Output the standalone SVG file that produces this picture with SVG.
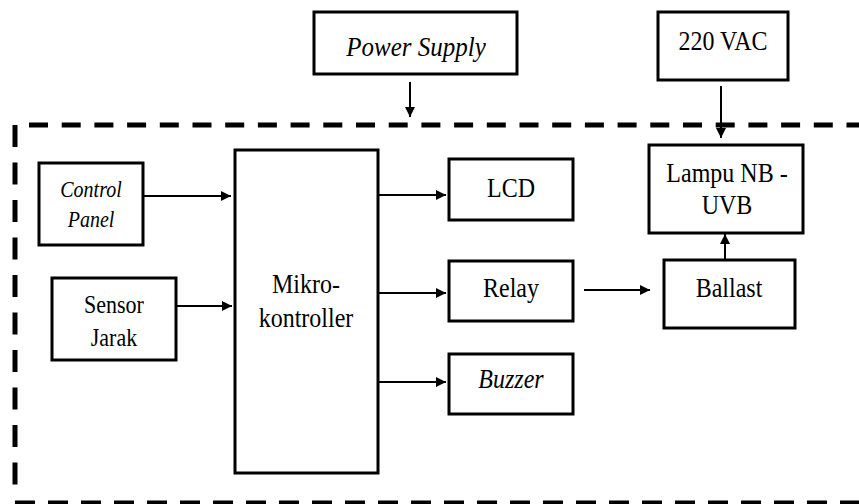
<svg xmlns="http://www.w3.org/2000/svg" width="859" height="504" viewBox="0 0 859 504">
<style>
.box{fill:#fff;stroke:#000;stroke-width:3}
.t{font-family:"Liberation Serif","Times New Roman",serif;font-size:24px;fill:#000;text-anchor:middle}
.i{font-style:italic}
.c{stroke:#000;stroke-width:2;fill:none}
.d{stroke:#000;stroke-width:5;fill:none}
</style>
<defs>
<marker id="ah" viewBox="0 0 10 10" refX="10" refY="5" markerWidth="10" markerHeight="10" markerUnits="userSpaceOnUse" orient="auto">
<path d="M0,0 L10,5 L0,10 Z" fill="#000"/>
</marker>
</defs>
<rect width="859" height="504" fill="#fff"/>
<g id="boundary">
<line class="d" x1="29" y1="125" x2="859" y2="125" stroke-dasharray="19 13.7"/>
<line class="d" x1="15" y1="125" x2="15" y2="490" stroke-dasharray="22 15.5"/>
<line class="d" x1="15" y1="503" x2="859" y2="503" stroke-dasharray="20 13"/>
</g>
<g id="connectors">
<line class="c" x1="410" y1="82" x2="410" y2="117" marker-end="url(#ah)"/>
<line class="c" x1="721" y1="86" x2="721" y2="138" marker-end="url(#ah)"/>
<line class="c" x1="143" y1="196" x2="231" y2="196" marker-end="url(#ah)"/>
<line class="c" x1="176" y1="306" x2="232" y2="306" marker-end="url(#ah)"/>
<line class="c" x1="378" y1="195" x2="446" y2="195" marker-end="url(#ah)"/>
<line class="c" x1="378" y1="293" x2="446" y2="293" marker-end="url(#ah)"/>
<line class="c" x1="378" y1="382" x2="446" y2="382" marker-end="url(#ah)"/>
<line class="c" x1="584" y1="290" x2="650" y2="290" marker-end="url(#ah)"/>
<line class="c" x1="725" y1="260" x2="725" y2="234" marker-end="url(#ah)"/>
</g>
<g id="power-supply">
<rect class="box" x="314" y="12" width="203" height="62"/>
<text class="t i" transform="translate(416,56) scale(1,1.08)" style="font-size:25px">Power Supply</text>
</g>
<g id="vac">
<rect class="box" x="658" y="12" width="130" height="68"/>
<text class="t" transform="translate(723,50) scale(1,1.12)">220 VAC</text>
</g>
<g id="control-panel">
<rect class="box" x="39" y="163" width="104" height="82"/>
<text class="t i" transform="translate(91,197) scale(1,1.2)" style="font-size:20px">Control</text>
<text class="t i" transform="translate(91,227) scale(1,1.2)" style="font-size:20px">Panel</text>
</g>
<g id="sensor-jarak">
<rect class="box" x="52" y="278" width="124" height="82"/>
<text class="t" transform="translate(114,313) scale(1,1.12)" style="font-size:22px">Sensor</text>
<text class="t" transform="translate(114,346) scale(1,1.12)" style="font-size:22px">Jarak</text>
</g>
<g id="mikrokontroller">
<rect class="box" x="235" y="150" width="143" height="323"/>
<text class="t" transform="translate(306,293) scale(1,1.12)">Mikro-</text>
<text class="t" transform="translate(306,327) scale(1,1.12)">kontroller</text>
</g>
<g id="lcd">
<rect class="box" x="449" y="159" width="124" height="61"/>
<text class="t" transform="translate(511,197) scale(1,1.12)">LCD</text>
</g>
<g id="relay">
<rect class="box" x="449" y="261" width="124" height="60"/>
<text class="t" transform="translate(511,297) scale(1,1.12)">Relay</text>
</g>
<g id="buzzer">
<rect class="box" x="449" y="354" width="124" height="60"/>
<text class="t i" transform="translate(511,388) scale(1,1.12)">Buzzer</text>
</g>
<g id="lampu">
<rect class="box" x="649" y="145" width="154" height="88"/>
<text class="t" transform="translate(727,182) scale(1,1.12)">Lampu NB -</text>
<text class="t" transform="translate(727,214) scale(1,1.12)">UVB</text>
</g>
<g id="ballast">
<rect class="box" x="664" y="260" width="131" height="68"/>
<text class="t" transform="translate(729,297) scale(1,1.12)">Ballast</text>
</g>
</svg>
